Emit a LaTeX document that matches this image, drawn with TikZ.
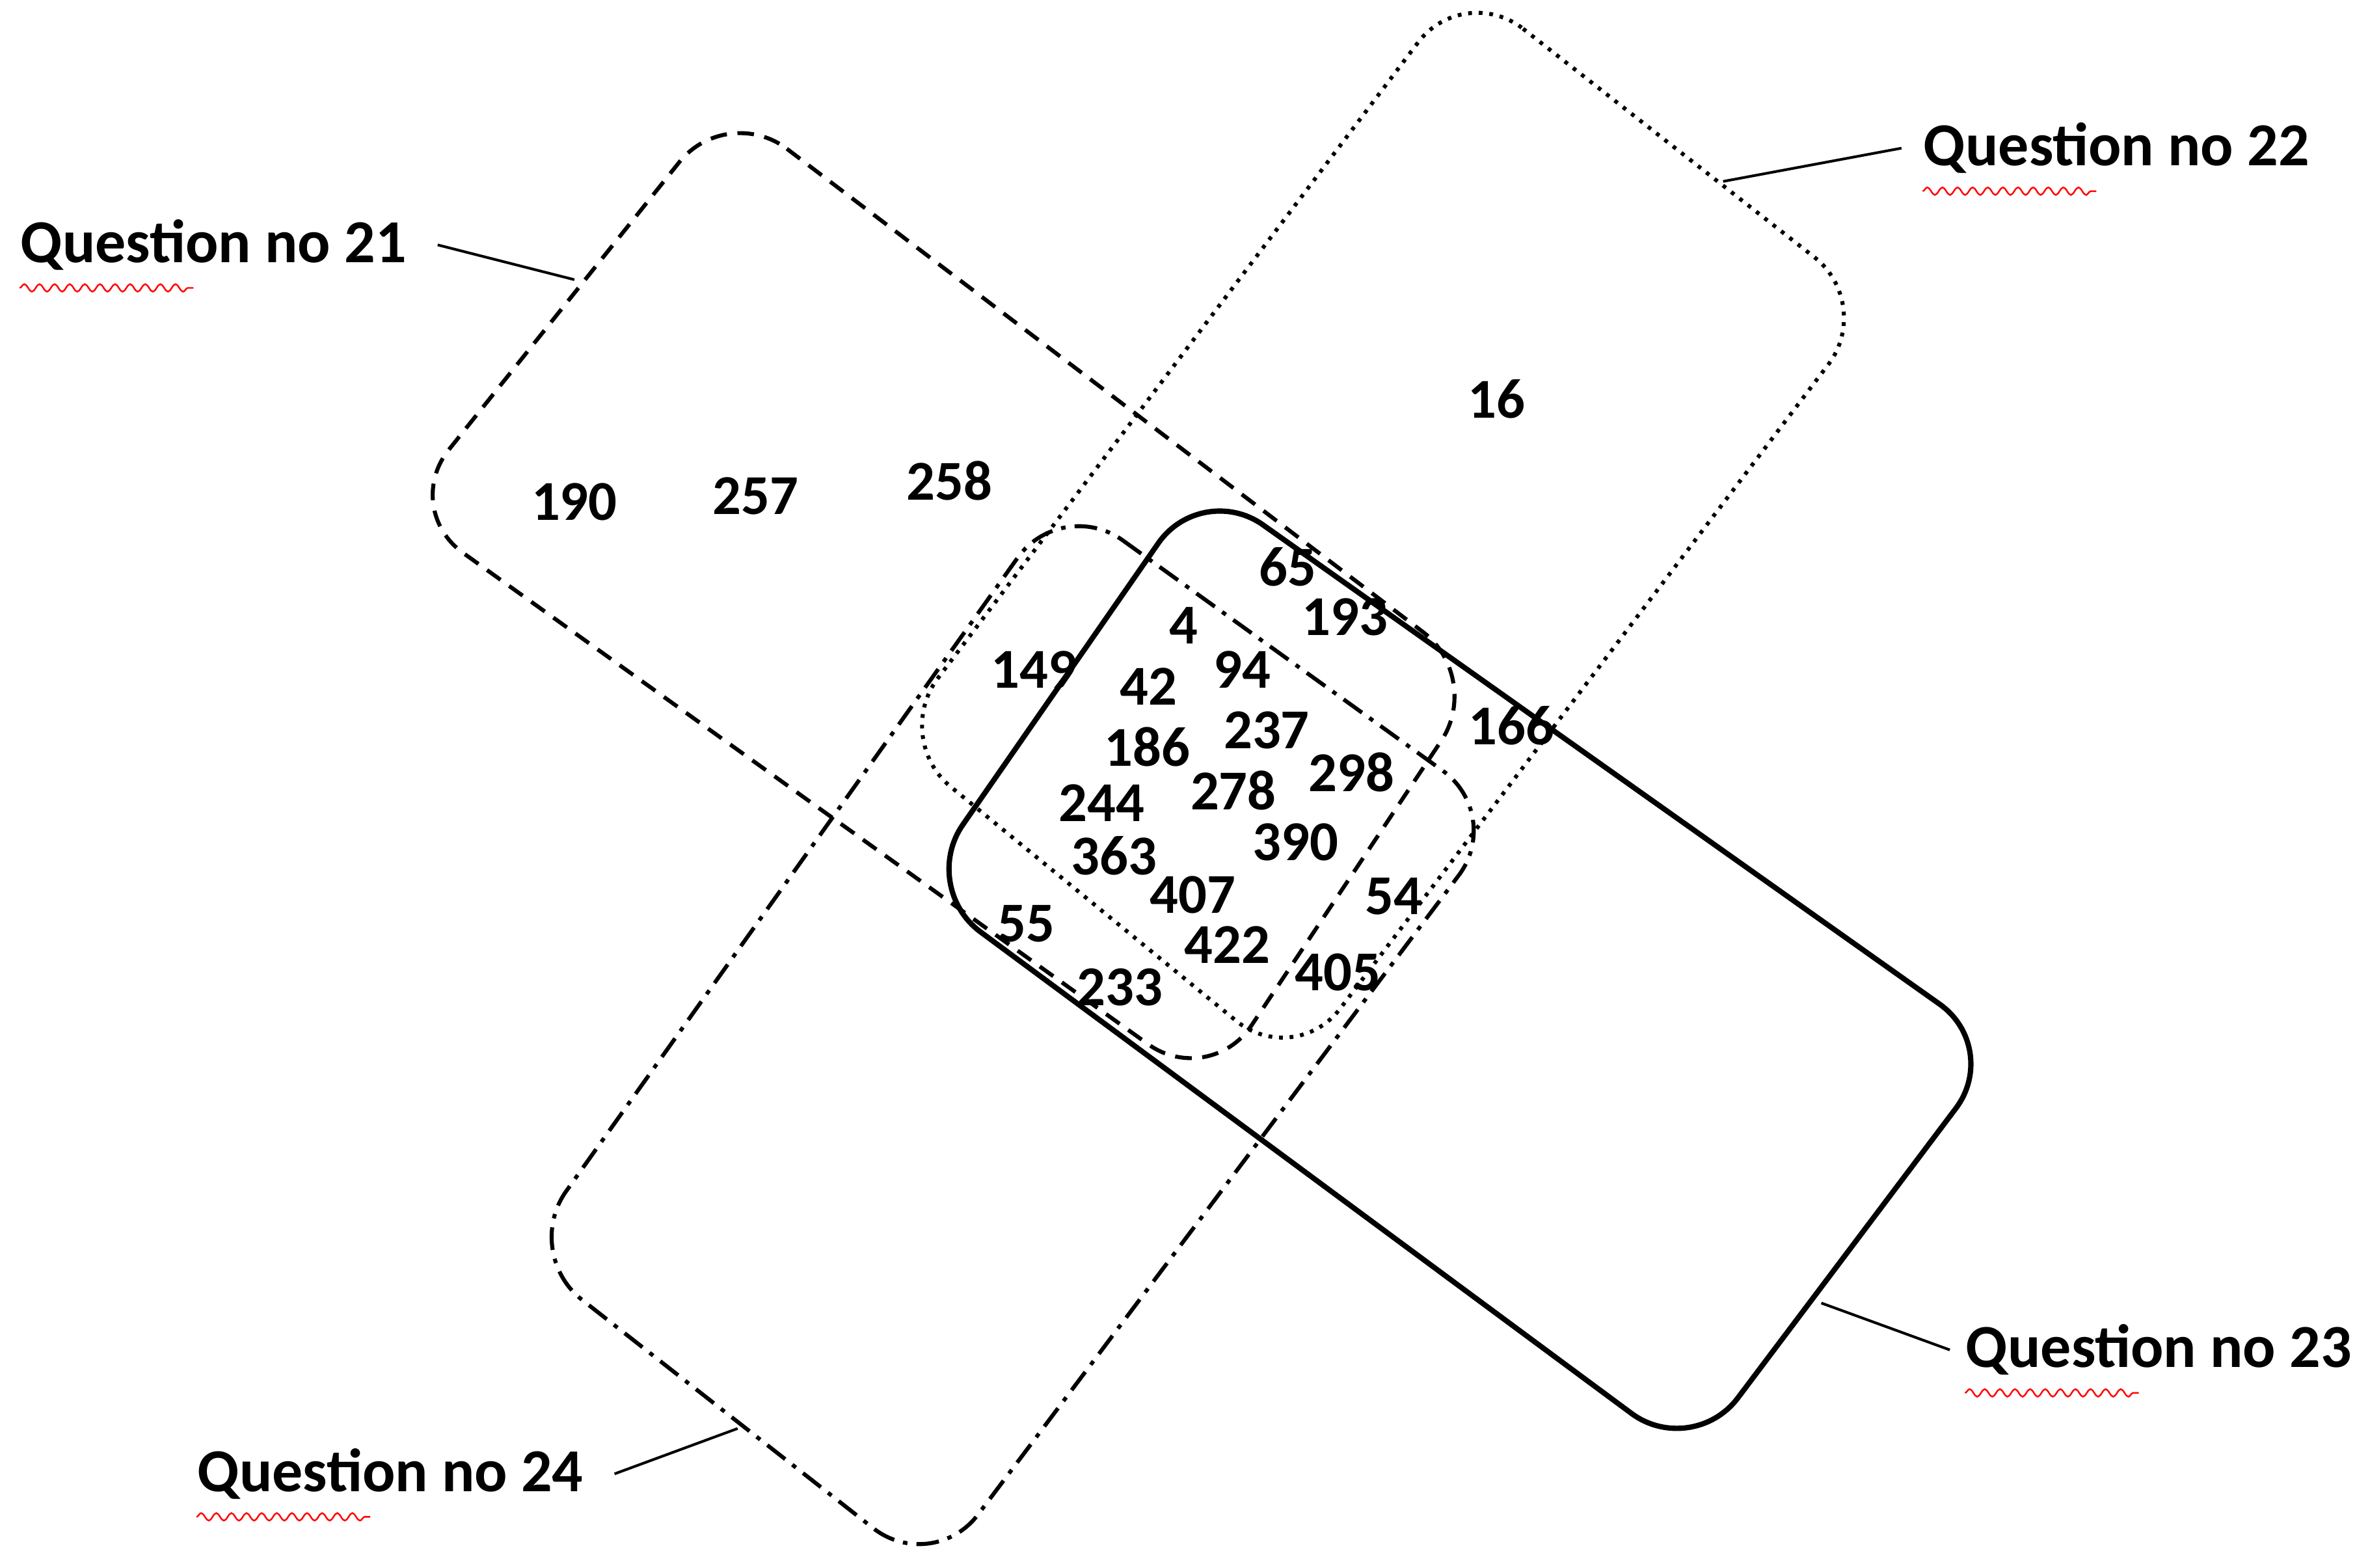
\documentclass[tikz,border=0pt]{standalone}
\usepackage{fontspec}
\setmainfont{Carlito}
\usetikzlibrary{decorations.pathmorphing,calc}
\begin{document}
\begin{tikzpicture}[x=0.1mm,y=-0.1mm,
  box/.style={line width=0.75pt,rounded corners=5mm},
  lead/.style={line width=0.5pt},
  num/.style={font=\fontsize{10.6}{13}\bfseries\selectfont,inner sep=0pt},
  qlab/.style={font=\fontsize{11.5}{13}\bfseries\selectfont,inner sep=0pt,anchor=west},
  squig/.style={red,line width=0.3pt,decorate,decoration={snake,amplitude=0.25mm,segment length=1mm}}]
\useasboundingbox (0,0) rectangle (1568,1037);
\newcommand\rbox[5]{% style, a,b,c,d
  \coordinate (ctr) at ($0.25*#2+0.25*#3+0.25*#4+0.25*#5$);
  \draw[box,#1] ($(ctr)!1.065!#2$) -- ($(ctr)!1.065!#3$) -- ($(ctr)!1.065!#4$) -- ($(ctr)!1.065!#5$) -- cycle;}
% Q21 dashed
\rbox{dash pattern=on 1.1mm off 0.7mm}{(490,88)}{(960,445)}{(790,700)}{(288,340)}
% Q22 dotted
\rbox{dash pattern=on 0.25mm off 0.45mm}{(965,10)}{(1220,210)}{(860,685)}{(610,480)}
% Q23 solid
\rbox{line width=1pt}{(805,338)}{(1302,690)}{(1110,945)}{(630,590)}
% Q24 dash-dot
\rbox{dash pattern=on 1.5mm off 0.6mm on 0.3mm off 0.6mm}{(700,350)}{(975,548)}{(620,1020)}{(365,820)}
% labels
\node[qlab] (q21) at (13,162) {Question no 21};
\node[qlab] (q22) at (1272,98) {Question no 22};
\node[qlab] (q23) at (1300,893) {Question no 23};
\node[qlab] (q24) at (130,975) {Question no 24};
\coordinate (e21) at (380,185); \coordinate (e22) at (1140,120);
\coordinate (e23) at (1205,862); \coordinate (e24) at (488,945);
\draw[lead] ([xshift=2mm]q21.east) -- (e21);
\draw[lead] ([xshift=-1.4mm]q22.west) -- (e22);
\draw[lead] ([xshift=-1mm]q23.west) -- (e23);
\draw[lead] ([xshift=2mm]q24.east) -- (e24);
\foreach \n in {q21,q22,q23,q24}
  \draw[squig] ([yshift=-1.1mm]\n.south west) -- ++(115,0);
% numbers
\foreach \t/\x/\y in {190/380/332,257/500/328,258/628/318,16/990/264,65/852/375,193/890/408,
  4/783/414,149/684/443,42/760/454,94/822/443,166/1000/480,186/759/494,237/838/483,298/894/511,
  244/729/531,278/816/523,363/737/566,390/857/557,407/789/592,54/922/593,55/679/611,422/812/625,
  405/885/643,233/741/653}
  \node[num] (n\t) at (\x,\y) {\t};
\end{tikzpicture}
\end{document}
